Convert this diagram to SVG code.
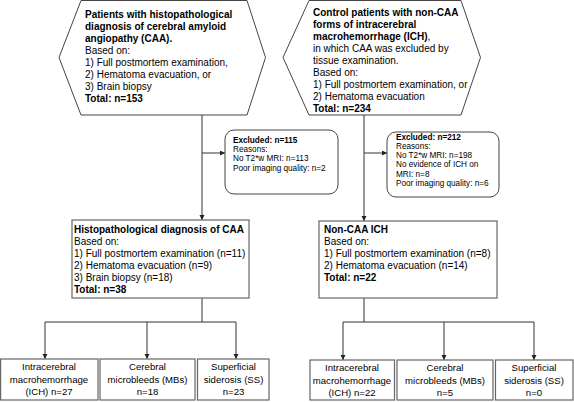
<svg xmlns="http://www.w3.org/2000/svg" width="574" height="402" viewBox="0 0 574 402">
<defs>
<marker id="arr" markerUnits="userSpaceOnUse" markerWidth="6" markerHeight="6" refX="5" refY="2.5" orient="auto">
<path d="M0,0 L5,2.5 L0,5 Z" fill="#222"/>
</marker>
</defs>
<style>
text{font-family:"Liberation Sans",Arial,sans-serif;fill:#000}
.t10{font-size:10px}
.t8{font-size:8.2px}
.t95{font-size:9.6px;text-anchor:middle}
.b{font-weight:bold}
.shape{fill:#fff;stroke:#444;stroke-width:1}
.box{fill:#fff;stroke:#666;stroke-width:1.2}
.conn line{stroke:#333;stroke-width:1;fill:none}
</style>
<rect width="574" height="402" fill="#fff"/>
<g id="conn" class="conn">
<line x1="202" y1="115" x2="202" y2="220" marker-end="url(#arr)"/>
<line x1="202" y1="153" x2="225" y2="153" marker-end="url(#arr)"/>
<line x1="364" y1="115" x2="364" y2="221" marker-end="url(#arr)"/>
<line x1="364" y1="153" x2="387" y2="153" marker-end="url(#arr)"/>
<line x1="202" y1="298" x2="202" y2="322"/>
<line x1="45" y1="322" x2="236" y2="322"/>
<line x1="45" y1="322" x2="45" y2="359" marker-end="url(#arr)"/>
<line x1="147" y1="322" x2="147" y2="359" marker-end="url(#arr)"/>
<line x1="236" y1="322" x2="236" y2="359" marker-end="url(#arr)"/>
<line x1="364" y1="298" x2="364" y2="322"/>
<line x1="343" y1="322" x2="534" y2="322"/>
<line x1="343" y1="322" x2="343" y2="360" marker-end="url(#arr)"/>
<line x1="444" y1="322" x2="444" y2="360" marker-end="url(#arr)"/>
<line x1="534" y1="322" x2="534" y2="360" marker-end="url(#arr)"/>
</g>
<g id="hexCAA">
<polygon class="shape" points="81,0.5 247,0.5 265.5,57.5 247,115 81,115 59,57.5"/>
<text class="t10" x="85" y="17.5"><tspan class="b">Patients with histopathological</tspan></text>
<text class="t10 b" x="85" y="29.5">diagnosis of cerebral amyloid</text>
<text class="t10 b" x="85" y="41.5">angiopathy (CAA).</text>
<text class="t10" x="85" y="53.5">Based on:</text>
<text class="t10" x="85" y="65.5">1) Full postmortem examination,</text>
<text class="t10" x="85" y="77.5">2) Hematoma evacuation, or</text>
<text class="t10" x="85" y="89.5">3) Brain biopsy</text>
<text class="t10 b" x="85" y="101.5">Total: n=153</text>
</g>
<g id="hexControl">
<polygon class="shape" points="309,0.5 461,0.5 480.5,57.5 461,115 309,115 283,57.5"/>
<text class="t10 b" x="313" y="15.5">Control patients with non-CAA</text>
<text class="t10 b" x="313" y="27.5">forms of intracerebral</text>
<text class="t10" x="313" y="39.5"><tspan class="b">macrohemorrhage (ICH)</tspan>,</text>
<text class="t10" x="313" y="51.5">in which CAA was excluded by</text>
<text class="t10" x="313" y="63.5">tissue examination.</text>
<text class="t10" x="313" y="75.5">Based on:</text>
<text class="t10" x="313" y="87.5">1) Full postmortem examination, or</text>
<text class="t10" x="313" y="99.5">2) Hematoma evacuation</text>
<text class="t10 b" x="313" y="111.5">Total: n=234</text>
</g>
<g id="excl1">
<rect class="shape" x="225" y="130" width="113" height="64" rx="9"/>
<text class="t8 b" x="233" y="143">Excluded: n=115</text>
<text class="t8" x="233" y="152.2">Reasons:</text>
<text class="t8" x="233" y="161.4">No T2*w MRI: n=113</text>
<text class="t8" x="233" y="170.6">Poor imaging quality: n=2</text>
</g>
<g id="excl2">
<rect class="shape" x="387" y="132" width="112" height="65" rx="9"/>
<text class="t8 b" x="396" y="139.5">Excluded: n=212</text>
<text class="t8" x="396" y="148.8">Reasons:</text>
<text class="t8" x="396" y="158.1">No T2*w MRI: n=198</text>
<text class="t8" x="396" y="167.4">No evidence of ICH on</text>
<text class="t8" x="396" y="176.7">MRI: n=8</text>
<text class="t8" x="396" y="186">Poor imaging quality: n=6</text>
</g>
<g id="caaBox">
<rect class="box" x="72" y="220" width="177" height="78"/>
<text class="t10 b" x="74" y="232.5">Histopathological diagnosis of CAA</text>
<text class="t10" x="74" y="244.5">Based on:</text>
<text class="t10" x="74" y="256.5">1) Full postmortem examination (n=11)</text>
<text class="t10" x="74" y="268.5">2) Hematoma evacuation (n=9)</text>
<text class="t10" x="74" y="280.5">3) Brain biopsy (n=18)</text>
<text class="t10 b" x="74" y="292.5">Total: n=38</text>
</g>
<g id="ichBox">
<rect class="box" x="319" y="221" width="178" height="77"/>
<text class="t10 b" x="324" y="232.5">Non-CAA ICH</text>
<text class="t10" x="324" y="244.5">Based on:</text>
<text class="t10" x="324" y="256.5">1) Full postmortem examination (n=8)</text>
<text class="t10" x="324" y="268.5">2) Hematoma evacuation (n=14)</text>
<text class="t10 b" x="324" y="280.5">Total: n=22</text>
</g>
<g id="caaICH">
<rect class="box" x="0.6" y="359" width="97.4" height="41"/>
<text class="t95" x="49" y="370">Intracerebral</text>
<text class="t95" x="49" y="382.5">macrohemorrhage</text>
<text class="t95" x="49" y="395">(ICH) n=27</text>
</g>
<g id="caaMB">
<rect class="box" x="100" y="359" width="95" height="41"/>
<text class="t95" x="147.5" y="370">Cerebral</text>
<text class="t95" x="147.5" y="382.5">microbleeds (MBs)</text>
<text class="t95" x="147.5" y="395">n=18</text>
</g>
<g id="caaSS">
<rect class="box" x="197.5" y="359" width="71.5" height="41"/>
<text class="t95" x="233.5" y="370">Superficial</text>
<text class="t95" x="233.5" y="382.5">siderosis (SS)</text>
<text class="t95" x="233.5" y="395">n=23</text>
</g>
<g id="ctlICH">
<rect class="box" x="310" y="360" width="84.5" height="40"/>
<text class="t95" x="352" y="371">Intracerebral</text>
<text class="t95" x="352" y="383.5">macrohemorrhage</text>
<text class="t95" x="352" y="396">(ICH) n=22</text>
</g>
<g id="ctlMB">
<rect class="box" x="397" y="360" width="96" height="40"/>
<text class="t95" x="445" y="371">Cerebral</text>
<text class="t95" x="445" y="383.5">microbleeds (MBs)</text>
<text class="t95" x="445" y="396">n=5</text>
</g>
<g id="ctlSS">
<rect class="box" x="495.5" y="360" width="77.5" height="40"/>
<text class="t95" x="534" y="371">Superficial</text>
<text class="t95" x="534" y="383.5">siderosis (SS)</text>
<text class="t95" x="534" y="396">n=0</text>
</g>
</svg>
